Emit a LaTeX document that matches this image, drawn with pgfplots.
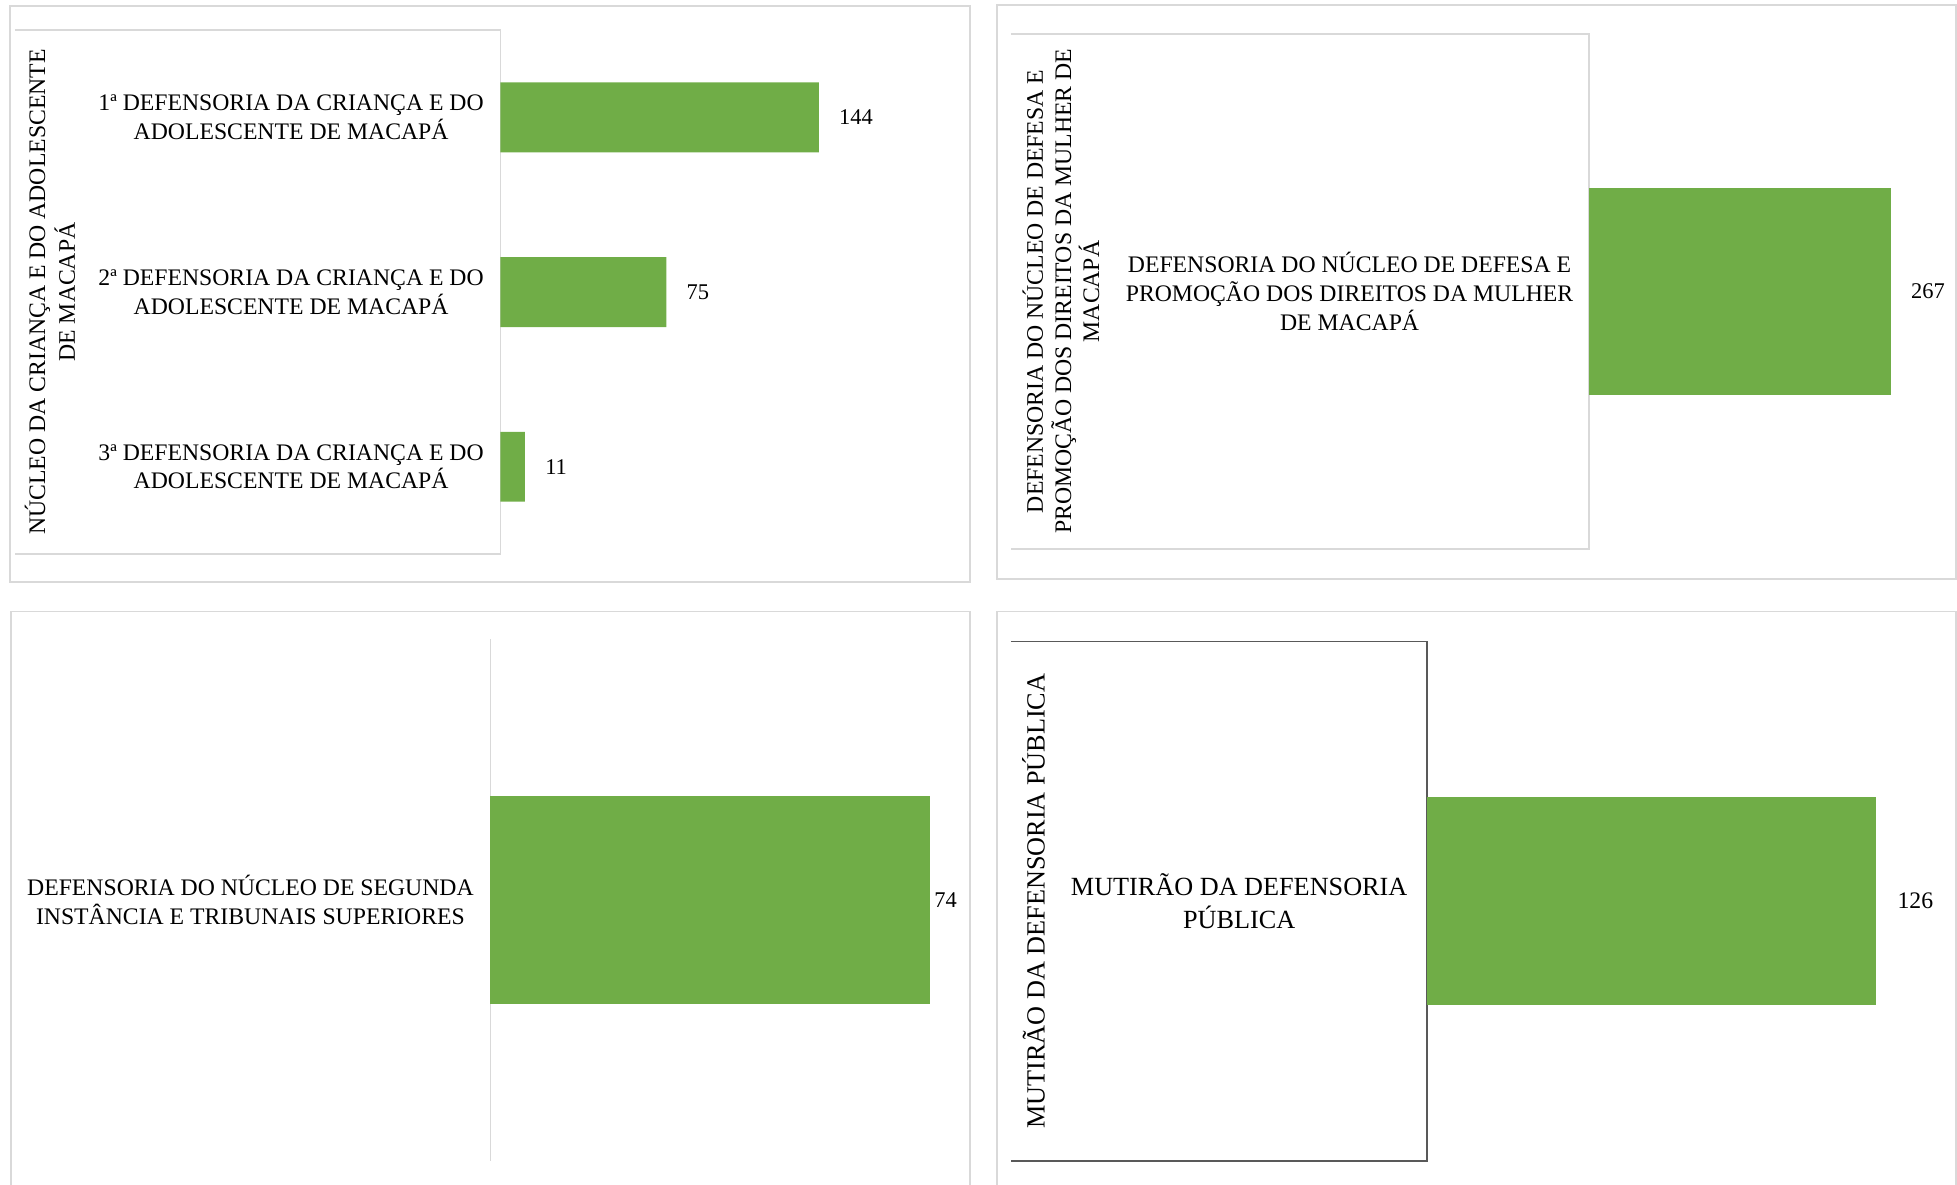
\documentclass[border=0pt]{standalone}
\usepackage{fontspec}
\setmainfont{Liberation Serif}
\usepackage{pgfplots}
\pgfplotsset{compat=1.18}

\definecolor{bargreen}{HTML}{70AD47}
\definecolor{framegray}{HTML}{D9D9D9}
\definecolor{boxdark}{HTML}{595959}

\newcommand\lbl{\fontsize{9.5}{11.5}\selectfont}
\newcommand\num{\fontsize{9}{11}\selectfont}

\pgfplotsset{
  panel/.style={
    xbar, scale only axis, clip=false, enlargelimits=false,
    xmin=0, y dir=reverse, ytick=data, xtick=\empty,
    axis line style={draw=none}, major tick length=0pt,
    bar width=0.4,
    yticklabel style={align=center, font=\lbl, inner sep=0pt, text=black},
    nodes near coords, nodes near coords align={horizontal},
    /pgf/number format/assume math mode=true,
    every node near coord/.append style={font=\num, inner sep=0pt, anchor=west, text=black},
  },
}

\begin{document}
\begin{tikzpicture}
\path[use as bounding box] (0,0) rectangle (784pt,474.5pt);

% outer frames
\draw[framegray, line width=0.75pt] (4pt,472pt) rectangle (388.5pt,241.5pt);
\draw[framegray, line width=0.75pt] (399.5pt,472.5pt) rectangle (783.5pt,242.5pt);
\draw[framegray, line width=0.75pt] (4.5pt,229.5pt) rectangle (388.5pt,-1pt);
\draw[framegray, line width=0.75pt] (399.5pt,229.5pt) rectangle (783.5pt,-1pt);

% category boxes
\draw[framegray, line width=0.75pt] (6pt,462.5pt) -- (200.5pt,462.5pt) -- (200.5pt,252.5pt) -- (6pt,252.5pt);
\draw[framegray, line width=0.75pt] (405pt,461pt) -- (636.5pt,461pt) -- (636.5pt,254.5pt) -- (405pt,254.5pt);
\draw[framegray, line width=0.75pt] (196.5pt,9.5pt) -- (196.5pt,218.5pt);
\draw[boxdark, line width=0.75pt] (405pt,217.5pt) -- (571.5pt,217.5pt) -- (571.5pt,9.5pt) -- (405pt,9.5pt);

% top left
\begin{axis}[panel, at={(200.5pt,252.5pt)}, anchor=south west,
  width=177.1pt, height=210pt, xmax=200, ymin=-0.5, ymax=2.5,
  yticklabels={{1ª DEFENSORIA DA CRIANÇA E DO\\ADOLESCENTE DE MACAPÁ},
               {2ª DEFENSORIA DA CRIANÇA E DO\\ADOLESCENTE DE MACAPÁ},
               {3ª DEFENSORIA DA CRIANÇA E DO\\ADOLESCENTE DE MACAPÁ}},
  yticklabel style={xshift=-6.5pt},
  every node near coord/.append style={xshift=8pt},
  ylabel={NÚCLEO DA CRIANÇA E DO ADOLESCENTE\\DE MACAPÁ},
  every axis y label/.style={at={(axis description cs:-1.0192,0.5)}, rotate=90,
    anchor=center, align=center, font=\fontsize{9.5}{12}\selectfont}]
\addplot[fill=bargreen, draw=none] coordinates {(144,0) (75,1) (11,2)};
\end{axis}

% top right
\begin{axis}[panel, at={(636.5pt,254.5pt)}, anchor=south west,
  width=135.9pt, height=206.5pt, xmax=300, ymin=-0.5, ymax=0.5,
  yticklabels={{DEFENSORIA DO NÚCLEO DE DEFESA E\\PROMOÇÃO DOS DIREITOS DA MULHER\\DE MACAPÁ}},
  yticklabel style={xshift=-6pt},
  every node near coord/.append style={xshift=8pt},
  ylabel={DEFENSORIA DO NÚCLEO DE DEFESA E\\PROMOÇÃO DOS DIREITOS DA MULHER DE\\MACAPÁ},
  every axis y label/.style={at={(axis description cs:-1.556,0.5)}, rotate=90,
    anchor=center, align=center, font=\fontsize{9.5}{11.25}\selectfont}]
\addplot[fill=bargreen, draw=none] coordinates {(267,0)};
\end{axis}

% bottom left
\begin{axis}[panel, at={(196.5pt,9.5pt)}, anchor=south west,
  width=190.4pt, height=209pt, xmax=80, ymin=-0.5, ymax=0.5,
  yticklabels={{DEFENSORIA DO NÚCLEO DE SEGUNDA\\INSTÂNCIA E TRIBUNAIS SUPERIORES}},
  yticklabel style={xshift=-6.5pt},
  every node near coord/.append style={xshift=1.5pt}]
\addplot[fill=bargreen, draw=none] coordinates {(74,0)};
\end{axis}

% bottom right
\begin{axis}[panel, at={(571.5pt,9.5pt)}, anchor=south west,
  width=214.3pt, height=208pt, xmax=150, ymin=-0.5, ymax=0.5,
  yticklabels={{MUTIRÃO DA DEFENSORIA\\PÚBLICA}},
  yticklabel style={xshift=-7.5pt, font=\fontsize{10.5}{13}\selectfont},
  every node near coord/.append style={xshift=8.5pt, font=\fontsize{9.5}{11}\selectfont},
  ylabel={MUTIRÃO DA DEFENSORIA PÚBLICA},
  every axis y label/.style={at={(axis description cs:-0.735,0.5)}, rotate=90,
    anchor=center, align=center, font=\fontsize{10.5}{13}\selectfont}]
\addplot[fill=bargreen, draw=none] coordinates {(126,0)};
\end{axis}
\end{tikzpicture}
\end{document}
